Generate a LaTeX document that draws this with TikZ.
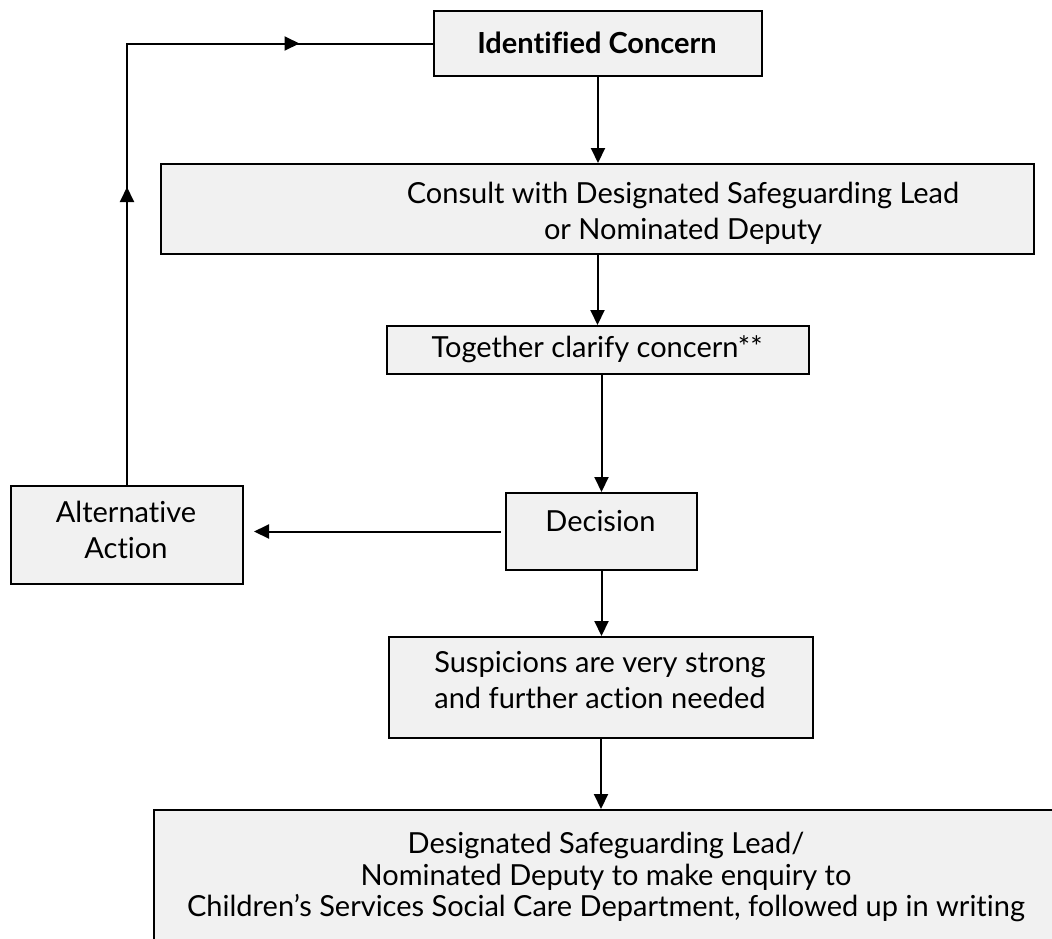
\documentclass[tikz,border=0pt]{standalone}
\usepackage{fontspec}
\setmainfont{Lato}[Ligatures=NoCommon]
\usetikzlibrary{arrows.meta,decorations.markings}
\definecolor{boxfill}{RGB}{241,241,241}
\begin{document}
\begin{tikzpicture}[x=1pt,y=-1pt,
  box/.style={draw=black, line width=2pt, fill=boxfill, rectangle, inner sep=0pt, anchor=north west},
  txt/.style={font=\fontsize{29}{36}\selectfont, align=center, inner sep=0pt},
  tip/.style={-{Triangle[length=15pt,width=14pt]}},
  conn/.style={line width=2pt, tip},
  loopline/.style={line width=2pt, postaction=decorate,
    decoration={markings,
      mark=at position 298pt with {\arrow{Triangle[length=15pt,width=14pt]}},
      mark=at position 614pt with {\arrow{Triangle[length=15pt,width=14pt]}}}},
]
\useasboundingbox (0,0) rectangle (1052,938);

% boxes
\node[box, minimum width=328pt, minimum height=65pt] (ident) at (433,10) {};
\node[box, minimum width=873pt, minimum height=90pt] (consult) at (160,163) {};
\node[box, minimum width=422pt, minimum height=48pt] (together) at (386,325) {};
\node[box, minimum width=191pt, minimum height=77pt] (decision) at (505,492) {};
\node[box, minimum width=232pt, minimum height=98pt] (alt) at (10,485) {};
\node[box, minimum width=424pt, minimum height=101pt] (susp) at (388,636) {};
\node[box, minimum width=906pt, minimum height=200pt] (bottom) at (153,809) {};

% texts
\node[txt, font=\fontsize{29}{36}\selectfont\bfseries] (identT) at (597,43) {Identified Concern};
\node[txt] (consultT) at (683,213) {Consult with Designated Safeguarding Lead\\or Nominated Deputy};
\node[txt] (togetherT) at (597,349) {Together clarify concern**};
\node[txt] (decisionT) at (600.5,521.5) {Decision};
\node[txt] (altT) at (126,530) {Alternative\\Action};
\node[txt] (suspT) at (600,680) {Suspicions are very strong\\and further action needed};
\node[txt, font=\fontsize{29}{31.5}\selectfont] (bottomT) at (606,877) {Designated Safeguarding Lead/\\Nominated Deputy to make enquiry to\\Children’s Services Social Care Department, followed up in writing};

% connectors
\draw[conn] (ident.south) -- (ident.south |- consult.north);
\draw[conn] (consult.south) -- (consult.south |- together.north);
\draw[conn] (decision.north |- together.south) -- (decision.north);
\draw[conn] (decision.south) -- (decision.south |- susp.north);
\draw[conn] (susp.south) -- (susp.south |- bottom.north);
\draw[conn, shorten >=10pt, shorten <=4pt] (decision.west) -- (decision.west -| alt.east);
\draw[loopline] (alt.north) -- (alt.north |- ident.west) -- (ident.west);
\end{tikzpicture}
\end{document}
